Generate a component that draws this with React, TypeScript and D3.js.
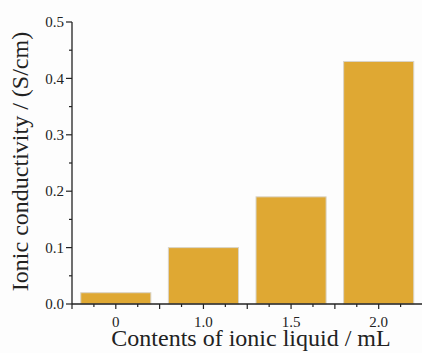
import React from "react";
import * as d3 from "d3";

const categories = ["0", "1.0", "1.5", "2.0"];
const values = [0.02, 0.10, 0.19, 0.43];
const yTicks = [0, 0.1, 0.2, 0.3, 0.4, 0.5];
const yMinorTicks = [0.05, 0.15, 0.25, 0.35, 0.45];

const W = 422, H = 353;
const M = { left: 72, right: 0, top: 22, bottom: 49 };

export default function App() {
  const x = d3.scaleBand<string>().domain(categories).range([M.left, 422.5]).paddingInner(0.2).paddingOuter(0.1);
  const y = d3.scaleLinear().domain([0, 0.5]).range([H - M.bottom, M.top]);
  const step = x.step();
  const x0 = M.left;
  const x1 = M.left + step * categories.length;
  const majorX: number[] = [];
  const minorX: number[] = [];
  for (let i = 0; i <= categories.length * 4; i++) {
    const px = x0 + (i * step) / 4;
    if (px > W) break;
    if (i % 2 === 0) majorX.push(px); else minorX.push(px);
  }
  const y0 = y(0);
  const font = "Liberation Serif";
  return (
    <svg width={W} height={H} style={{ position: "absolute", left: 0, top: 0, background: "#fdfdfd" }}>
      {values.map((v, i) => (
        <rect key={i} x={x(categories[i])!} y={y(v)} width={x.bandwidth()} height={y0 - y(v)}
          fill="#dfa833" stroke="#d9d4c8" strokeWidth={1} />
      ))}
      <line x1={M.left} x2={M.left} y1={M.top} y2={y0} stroke="#222" strokeWidth={1.3} />
      <line x1={M.left} x2={Math.min(x1, W)} y1={y0} y2={y0} stroke="#222" strokeWidth={1.3} />
      {yTicks.map((t) => (
        <g key={t}>
          <line x1={M.left - 6} x2={M.left} y1={y(t)} y2={y(t)} stroke="#222" strokeWidth={1.2} />
          <text x={64} y={y(t)} dy="0.34em" textAnchor="end" fontFamily={font} fontSize={15} fill="#222">{t.toFixed(1)}</text>
        </g>
      ))}
      {yMinorTicks.map((t) => (
        <line key={t} x1={M.left - 3} x2={M.left} y1={y(t)} y2={y(t)} stroke="#222" strokeWidth={1.2} />
      ))}
      {majorX.map((px, i) => (
        <line key={"M" + i} x1={px} x2={px} y1={y0} y2={y0 + 5} stroke="#222" strokeWidth={1.2} />
      ))}
      {minorX.map((px, i) => (
        <line key={"m" + i} x1={px} x2={px} y1={y0} y2={y0 + 3} stroke="#222" strokeWidth={1.2} />
      ))}
      {categories.map((c) => (
        <text key={c} x={x(c)! + x.bandwidth() / 2} y={327} textAnchor="middle" fontFamily={font} fontSize={15} fill="#222">{c}</text>
      ))}
      <text x={251} y={346} textAnchor="middle" fontFamily={font} fontSize={24} fill="#222">Contents of ionic liquid / mL</text>
      <text transform={`translate(28,161.5) rotate(-90)`} textAnchor="middle" fontFamily={font} fontSize={24} fill="#222">Ionic conductivity / (S/cm)</text>
    </svg>
  );
}
